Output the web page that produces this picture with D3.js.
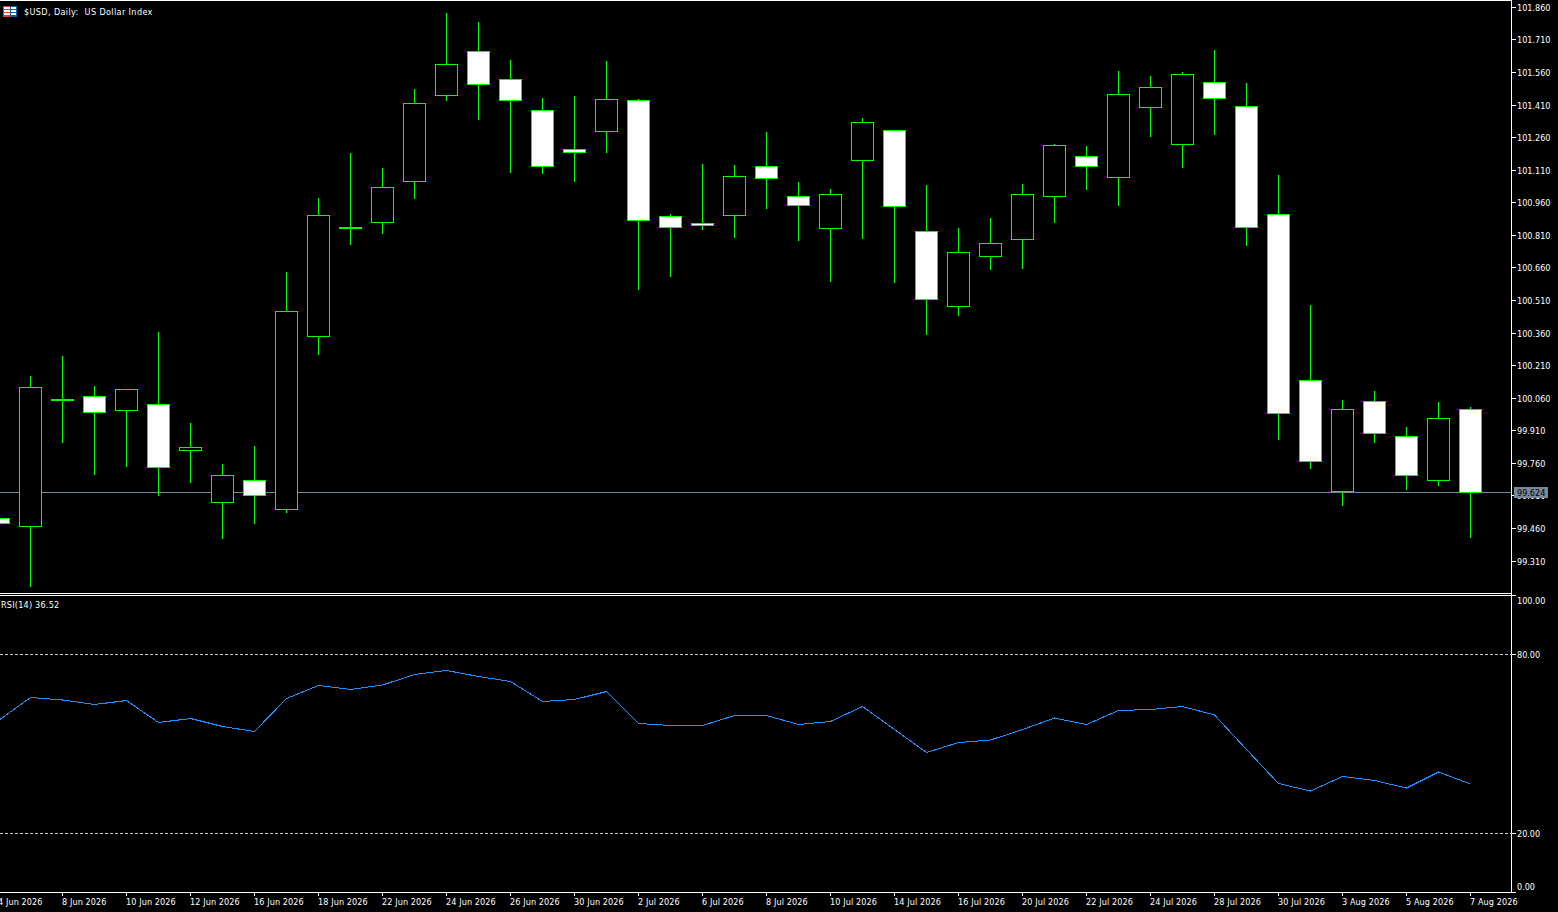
<!DOCTYPE html>
<html><head><meta charset="utf-8">
<script src="https://cdn.jsdelivr.net/npm/d3@7/dist/d3.min.js"></script>
<style>
html,body{margin:0;padding:0;background:#000;overflow:hidden}
svg{display:block;position:absolute;left:0;top:0}
text{font-family:"DejaVu Sans Condensed","DejaVu Sans",sans-serif;font-stretch:condensed;font-size:9px;fill:#fff}
</style></head><body><svg id="c" width="1558" height="912"></svg>
<script>
const dates=["4 Jun 2026","5 Jun 2026","8 Jun 2026","9 Jun 2026","10 Jun 2026","11 Jun 2026","12 Jun 2026","15 Jun 2026","16 Jun 2026","17 Jun 2026","18 Jun 2026","19 Jun 2026","22 Jun 2026","23 Jun 2026","24 Jun 2026","25 Jun 2026","26 Jun 2026","29 Jun 2026","30 Jun 2026","1 Jul 2026","2 Jul 2026","3 Jul 2026","6 Jul 2026","7 Jul 2026","8 Jul 2026","9 Jul 2026","10 Jul 2026","13 Jul 2026","14 Jul 2026","15 Jul 2026","16 Jul 2026","17 Jul 2026","20 Jul 2026","21 Jul 2026","22 Jul 2026","23 Jul 2026","24 Jul 2026","27 Jul 2026","28 Jul 2026","29 Jul 2026","30 Jul 2026","31 Jul 2026","3 Aug 2026","4 Aug 2026","5 Aug 2026","6 Aug 2026","7 Aug 2026"];
const highs=[99.520,100.162,100.254,100.116,100.100,100.365,99.946,99.757,99.840,100.641,100.982,101.189,101.120,101.484,101.834,101.792,101.617,101.442,101.452,101.613,101.438,100.908,101.138,101.134,101.286,101.055,101.023,101.350,101.295,101.042,100.844,100.890,101.046,101.230,101.221,101.567,101.544,101.562,101.663,101.511,101.088,100.489,100.052,100.093,99.927,100.042,100.019];
const bodyTops=[99.506,100.109,100.054,100.068,100.100,100.031,99.833,99.704,99.681,100.459,100.901,100.846,101.030,101.417,101.597,101.656,101.528,101.385,101.205,101.435,101.431,100.897,100.864,101.081,101.127,100.989,100.998,101.329,101.293,100.828,100.731,100.772,100.998,101.224,101.173,101.458,101.491,101.551,101.514,101.403,100.906,100.141,100.008,100.045,99.883,99.966,100.008];
const bodyBottoms=[99.483,99.469,100.049,99.994,100.003,99.741,99.819,99.579,99.612,99.547,100.344,100.841,100.869,101.058,101.454,101.505,101.431,101.127,101.191,101.288,100.878,100.846,100.855,100.901,101.072,100.947,100.841,101.155,100.943,100.514,100.482,100.712,100.791,100.989,101.127,101.076,101.399,101.228,101.440,100.846,99.989,99.768,99.630,99.897,99.704,99.681,99.624];
const lows=[99.460,99.190,99.854,99.706,99.743,99.609,99.669,99.411,99.480,99.531,100.259,100.765,100.816,100.977,101.429,101.341,101.097,101.092,101.055,101.189,100.558,100.618,100.834,100.798,100.931,100.784,100.595,100.793,100.590,100.351,100.438,100.650,100.655,100.867,101.019,100.945,101.263,101.120,101.272,100.761,99.867,99.734,99.563,99.854,99.637,99.655,99.416];
const filled=[1,0,1,1,0,1,0,0,1,0,0,1,0,0,0,1,1,1,1,0,1,1,1,0,1,1,0,0,1,1,0,0,0,0,1,0,0,0,1,1,1,1,0,1,1,0,1];
const rsi=[57.85,65.57,64.73,63.22,64.56,57.18,58.52,55.84,54.16,65.23,69.60,68.26,69.77,73.29,74.63,72.62,70.94,64.23,64.90,67.58,56.85,56.17,56.17,59.53,59.53,56.51,57.52,62.55,54.83,47.11,50.47,51.31,54.83,58.69,56.51,61.21,61.54,62.55,59.70,48.12,36.71,34.19,39.06,37.72,35.20,40.57,36.52];
const priceTicks=[99.31,99.46,99.61,99.76,99.91,100.06,100.21,100.36,100.51,100.66,100.81,100.96,101.11,101.26,101.41,101.56,101.71,101.86];
const rsiTicks=[100,80,20,0];
const dateTicks=["4 Jun 2026","8 Jun 2026","10 Jun 2026","12 Jun 2026","16 Jun 2026","18 Jun 2026","22 Jun 2026","24 Jun 2026","26 Jun 2026","30 Jun 2026","2 Jul 2026","6 Jul 2026","8 Jul 2026","10 Jul 2026","14 Jul 2026","16 Jul 2026","20 Jul 2026","22 Jul 2026","24 Jul 2026","28 Jul 2026","30 Jul 2026","3 Aug 2026","5 Aug 2026","7 Aug 2026"];
const lastPrice=99.624;
const GREEN="#00ff00",WHITE="#ffffff",GRID="#778899";

const svg=d3.select("#c");
const x=d3.scalePoint().domain(dates).range([-1.5,1470.5]);
const y=d3.scaleLinear().domain([99.31,101.86]).range([561,7.3]);
const yr=d3.scaleLinear().domain([0,100]).range([892.9,594.9]);
const crisp=v=>Math.round(v-0.5)+0.5;
const right=1511.5;

const g=svg.append("g").attr("shape-rendering","crispEdges");
const cs=d3.range(dates.length).map(i=>({d:dates[i],h:highs[i],t:bodyTops[i],b:bodyBottoms[i],l:lows[i],f:filled[i]}));
g.append("line").attr("x1",0).attr("x2",right).attr("y1",crisp(y(lastPrice))).attr("y2",crisp(y(lastPrice))).attr("stroke",GRID);
const bar=g.selectAll("g.c").data(cs).join("g").attr("class","c");
bar.append("line").attr("x1",d=>crisp(x(d.d))).attr("x2",d=>crisp(x(d.d))).attr("y1",d=>Math.round(y(d.h))).attr("y2",d=>Math.round(y(d.l))).attr("stroke",GREEN);
bar.append("rect").attr("x",d=>crisp(x(d.d))-11).attr("width",22)
 .attr("y",d=>crisp(y(d.t))).attr("height",d=>Math.max(1,crisp(y(d.b))-crisp(y(d.t))))
 .attr("fill",d=>d.f?WHITE:"#000").attr("stroke",GREEN);

const fr=svg.append("g").attr("shape-rendering","crispEdges").attr("stroke",WHITE);
fr.append("line").attr("x1",0).attr("x2",right).attr("y1",0.5).attr("y2",0.5);
fr.append("line").attr("x1",right).attr("x2",right).attr("y1",0).attr("y2",892);
fr.append("line").attr("x1",0).attr("x2",right).attr("y1",593.5).attr("y2",593.5);
fr.append("line").attr("x1",0).attr("x2",right+4).attr("y1",595.5).attr("y2",595.5);
fr.append("line").attr("x1",0).attr("x2",right+4).attr("y1",892.5).attr("y2",892.5);

const pa=svg.append("g").selectAll("g").data(priceTicks).join("g");
pa.append("line").attr("x1",right).attr("x2",right+4).attr("y1",d=>crisp(y(d))).attr("y2",d=>crisp(y(d))).attr("stroke",WHITE).attr("shape-rendering","crispEdges");
pa.append("text").attr("x",1517).attr("y",d=>crisp(y(d))+3.5).text(d=>d.toFixed(3));

const ly=crisp(y(lastPrice));
svg.append("rect").attr("x",1514).attr("y",ly-5.5).attr("width",34).attr("height",11).attr("fill",GRID);
svg.append("text").attr("x",1517).attr("y",ly+3.5).style("fill","#000").text(lastPrice.toFixed(3));

svg.append("g").selectAll("line").data(rsiTicks.filter(d=>d>0&&d<100)).join("line")
 .attr("x1",0).attr("x2",right).attr("y1",d=>crisp(yr(d))).attr("y2",d=>crisp(yr(d)))
 .attr("stroke","#c8c8c8").attr("stroke-dasharray","3 2").attr("shape-rendering","crispEdges");
const ra=svg.append("g").selectAll("g").data(rsiTicks).join("g");
ra.filter(d=>d>0&&d<100).append("line").attr("x1",right).attr("x2",right+4).attr("y1",d=>crisp(yr(d))).attr("y2",d=>crisp(yr(d))).attr("stroke",WHITE).attr("shape-rendering","crispEdges");
ra.append("text").attr("x",1517).attr("y",d=>d===100?604:d===0?890:crisp(yr(d))+3.5).text(d=>d.toFixed(2));

svg.append("path").datum(rsi).attr("fill","none").attr("stroke","#1e90ff").attr("stroke-width",1).attr("shape-rendering","crispEdges")
 .attr("d",d3.line().x((d,i)=>x(dates[i])).y(d=>yr(d)));

const da=svg.append("g").selectAll("g").data(dateTicks).join("g");
da.append("line").attr("x1",d=>crisp(x(d))).attr("x2",d=>crisp(x(d))).attr("y1",892).attr("y2",896).attr("stroke",WHITE).attr("shape-rendering","crispEdges");
da.append("text").attr("x",d=>x(d)-0.5).attr("y",905).style("letter-spacing","0.1px").text(d=>d);

const fl=svg.append("g").attr("shape-rendering","crispEdges");
fl.append("rect").attr("x",3).attr("y",6).attr("width",7).attr("height",11).attr("fill","#e8392c");
fl.append("rect").attr("x",10).attr("y",6).attr("width",7).attr("height",11).attr("fill","#0f5aa8");
[[4,6],[11,5]].forEach(([px,w])=>{[7,10,13].forEach(v=>{fl.append("rect").attr("x",px).attr("y",v).attr("width",w).attr("height",2).attr("fill","#fff");});});
svg.append("text").attr("x",24).attr("y",15).style("white-space","pre").style("letter-spacing","0.38px").text("$USD, Daily:  US Dollar Index");
svg.append("text").attr("x",1).attr("y",608).style("letter-spacing","0.22px").text("RSI(14) 36.52");
</script></body></html>
